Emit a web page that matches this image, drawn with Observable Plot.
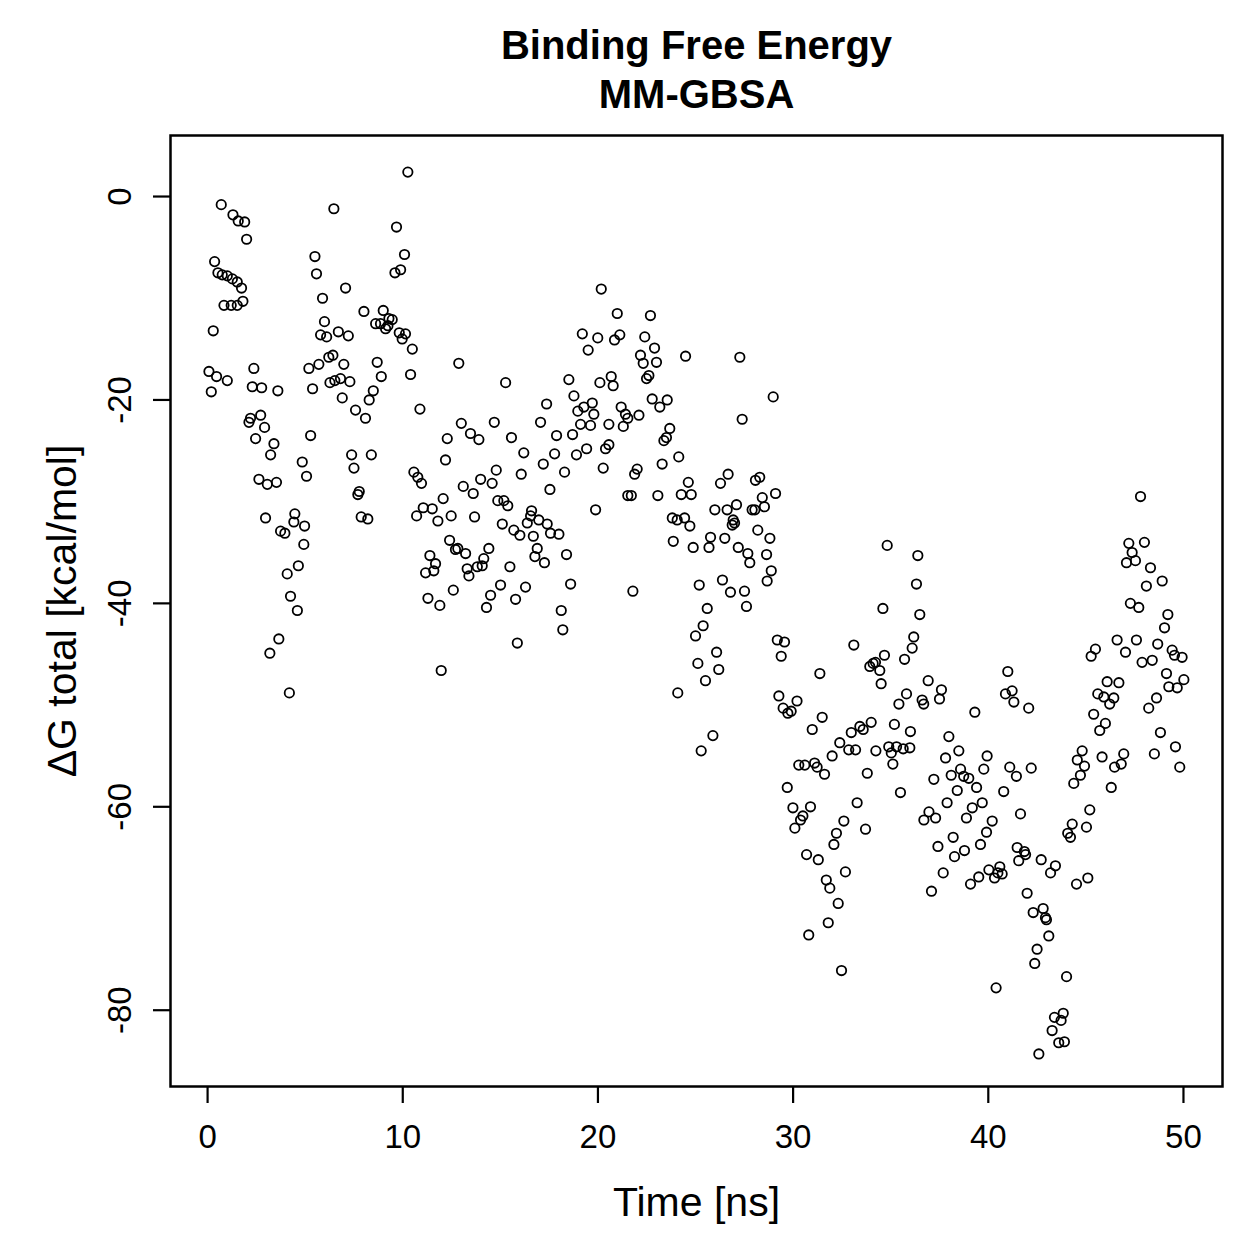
<!DOCTYPE html>
<html>
<head>
<meta charset="utf-8">
<script src="https://cdn.jsdelivr.net/npm/d3@7"></script>
<script src="https://cdn.jsdelivr.net/npm/@observablehq/plot@0.6"></script>
<style>
  html, body { margin: 0; padding: 0; background: #ffffff; }
</style>
</head>
<body>
<div id="chart"></div>
<script>
// MM-GBSA binding free energy samples, [time (ns), ΔG total (kcal/mol)], by time window
const run0to5 = [
  [0.70,-0.8],[1.30,-1.8],[1.57,-2.4],[1.90,-2.5],[2.00,-4.2],[0.36,-6.4],[0.53,-7.5],[0.75,-7.7],
  [1.01,-7.8],[1.27,-8.1],[1.52,-8.4],[1.74,-9.0],[1.81,-10.3],[1.52,-10.7],[1.21,-10.7],[0.84,-10.7],
  [0.29,-13.2],[0.07,-17.2],[0.46,-17.7],[1.01,-18.1],[0.19,-19.2],
  [2.37,-16.9],[2.29,-18.7],[2.77,-18.8],[3.60,-19.1],[2.20,-21.8],[2.12,-22.2],[2.72,-21.5],[2.92,-22.7],
  [2.46,-23.8],[3.40,-24.3],[3.23,-25.4],[2.63,-27.8],[3.06,-28.3],[3.53,-28.1],[2.97,-31.6],[4.47,-31.2],
  [4.42,-32.0],[4.97,-32.4],[3.74,-32.9],[3.96,-33.1],[4.93,-34.2],[4.65,-36.3],[4.08,-37.1],[4.25,-39.3],
  [4.60,-40.7],[3.65,-43.5],[3.19,-44.9],[4.19,-48.8]
];
const run5to11 = [
  [5.50,-5.9],[5.58,-7.6],[5.89,-10.0],[5.99,-12.3],[5.79,-13.6],[6.10,-13.8],[5.19,-16.9],[5.70,-16.5],
  [6.21,-15.8],[6.42,-15.6],[5.38,-18.9],[5.28,-23.5],[4.85,-26.1],[5.07,-27.5],
  [10.26,2.4],[6.47,-1.2],[9.68,-3.0],[10.09,-5.7],[9.60,-7.5],[9.89,-7.2],[7.07,-9.0],[8.01,-11.3],
  [9.00,-11.2],[8.61,-12.5],[8.86,-12.5],[9.29,-12.0],[9.46,-12.1],[9.12,-13.0],[9.24,-12.7],[9.82,-13.4],
  [10.14,-13.5],[9.97,-14.0],[10.49,-15.0],[6.70,-13.3],[7.21,-13.7],[6.98,-16.5],[6.27,-18.3],[6.52,-18.1],
  [6.81,-17.9],[7.29,-18.2],[6.90,-19.8],[8.69,-16.3],[8.90,-17.7],[8.49,-19.1],[8.28,-20.0],[7.58,-21.0],
  [8.09,-21.8],[10.40,-17.5],[10.88,-20.9],[7.38,-25.4],[7.50,-26.7],[8.39,-25.4],[7.77,-29.0],[7.70,-29.3],
  [7.87,-31.5],[8.21,-31.7],[10.57,-27.1],[10.77,-27.6],[10.96,-28.2],[10.71,-31.4],[11.05,-30.6]
];
const run11to18 = [
  [12.87,-16.4],[15.27,-18.3],[17.37,-20.4],[13.00,-22.3],[14.69,-22.2],[17.06,-22.2],[13.47,-23.3],[13.90,-23.9],
  [12.28,-23.8],[15.57,-23.7],[16.20,-25.2],[12.19,-25.9],[17.20,-26.3],[14.79,-26.9],[16.07,-27.3],[13.99,-27.8],
  [14.58,-28.2],[13.10,-28.5],[13.61,-29.2],[12.07,-29.7],[17.54,-28.8],[14.87,-29.9],[15.18,-29.9],[15.38,-30.4],
  [11.51,-30.7],[11.80,-31.9],[12.48,-31.4],[13.68,-31.5],[16.60,-30.9],[16.55,-31.4],[16.38,-32.1],[16.97,-31.8],
  [17.40,-32.2],[17.57,-33.1],[15.10,-32.2],[15.69,-32.8],[16.00,-33.3],[16.69,-33.4],[16.89,-34.6],[16.77,-35.4],
  [17.26,-36.0],[12.40,-33.8],[12.70,-34.7],[12.82,-34.6],[13.22,-35.1],[14.41,-34.6],[14.15,-35.6],[11.39,-35.3],
  [11.68,-36.1],[11.59,-36.8],[11.17,-37.0],[13.30,-36.6],[13.39,-37.3],[13.82,-36.4],[14.07,-36.3],[15.49,-36.4],
  [15.01,-38.2],[14.50,-39.2],[14.29,-40.4],[16.29,-38.4],[15.78,-39.6],[12.59,-38.7],[11.29,-39.5],[11.90,-40.2],
  [15.87,-43.9],[11.97,-46.6]
];
const run18to24 = [
  [20.17,-9.1],[20.99,-11.5],[22.69,-11.7],[19.20,-13.5],[19.99,-13.9],[19.50,-15.1],[20.85,-14.1],[21.12,-13.6],
  [22.40,-13.8],[22.90,-14.9],[22.18,-15.6],[23.00,-16.3],[22.32,-16.4],[22.49,-17.9],[22.61,-17.6],[18.51,-18.0],
  [20.10,-18.3],[20.68,-17.7],[20.78,-18.6],[18.77,-19.6],[19.71,-20.3],[19.28,-20.7],[18.97,-21.1],[19.79,-21.4],
  [19.11,-22.4],[19.62,-22.5],[22.78,-19.9],[23.55,-20.0],[23.17,-20.7],[21.19,-20.7],[21.41,-21.4],[21.53,-21.8],
  [21.30,-22.6],[22.10,-21.5],[20.56,-22.4],[17.88,-23.5],[18.70,-23.4],[23.68,-22.8],[23.51,-23.7],[23.38,-24.0],
  [17.78,-25.3],[18.90,-25.4],[19.42,-24.8],[20.39,-24.8],[20.56,-24.4],[18.29,-27.1],[20.27,-26.7],[21.88,-27.3],
  [22.01,-26.8],[23.29,-26.3],[24.14,-25.6],[21.53,-29.4],[21.71,-29.4],[23.07,-29.4],[19.88,-30.8],[23.81,-31.6],
  [24.06,-31.8],[18.00,-33.2],[18.39,-35.2],[23.86,-33.9],[18.60,-38.1],[21.79,-38.8],[18.12,-40.7],[18.20,-42.6]
];
const run24to30 = [
  [24.49,-15.7],[27.27,-15.8],[28.98,-19.7],[27.39,-21.9],[24.63,-28.1],[24.27,-29.3],[24.78,-29.3],[26.67,-27.3],
  [26.28,-28.2],[28.29,-27.6],[28.07,-27.9],[29.10,-29.2],[28.42,-29.6],[28.53,-30.5],[27.90,-30.8],[28.04,-30.8],
  [25.99,-30.8],[26.62,-30.8],[27.10,-30.3],[26.93,-31.8],[27.00,-32.1],[26.88,-32.3],[24.44,-31.6],[24.71,-32.4],
  [24.88,-34.5],[25.77,-33.5],[25.69,-34.5],[26.50,-33.6],[27.19,-34.5],[27.68,-35.1],[27.78,-36.0],[28.19,-32.8],
  [28.81,-33.6],[28.64,-35.2],[28.88,-36.8],[28.67,-37.8],[25.19,-38.2],[26.38,-37.7],[26.79,-38.9],[27.51,-38.8],
  [27.61,-40.3],[25.60,-40.5],[25.39,-42.2],[25.00,-43.2],[29.19,-43.6],[29.56,-43.8],[29.39,-45.2],[26.08,-44.8],
  [25.12,-45.9],[26.19,-46.5],[25.51,-47.6],[24.09,-48.8],[29.27,-49.1],[29.49,-50.3],[29.73,-50.8],[25.89,-53.0],
  [25.29,-54.5]
];
const run30to34 = [
  [33.11,-44.1],[31.37,-46.9],[29.90,-50.6],[30.20,-49.6],[30.98,-52.4],[31.49,-51.2],[32.39,-53.7],[32.85,-54.4],
  [33.20,-54.4],[32.98,-52.7],[33.42,-52.1],[33.59,-52.4],[34.00,-51.7],[34.24,-54.5],[32.00,-55.0],[30.29,-55.9],
  [30.60,-55.9],[31.10,-55.7],[31.23,-56.1],[31.61,-56.8],[33.80,-56.7],[29.70,-58.1],[29.99,-60.1],[30.89,-60.0],
  [30.50,-60.9],[30.38,-61.3],[30.09,-62.1],[33.28,-59.6],[32.60,-61.4],[32.22,-62.6],[32.09,-63.7],[33.71,-62.2],
  [30.69,-64.7],[31.29,-65.2],[32.68,-66.4],[31.70,-67.2],[31.88,-68.0],[32.31,-69.5],[31.80,-71.4],[30.80,-72.6],
  [32.48,-76.1]
];
const run34to40 = [
  [34.82,-34.3],[36.39,-35.3],[36.32,-38.1],[34.60,-40.5],[36.49,-41.1],[36.18,-43.3],[36.10,-44.4],[35.71,-45.5],
  [34.68,-45.1],[34.22,-45.8],[33.93,-46.2],[34.10,-45.9],[34.44,-46.6],[34.51,-47.9],[36.92,-47.6],[37.60,-48.5],
  [37.50,-49.4],[35.81,-48.9],[35.42,-49.9],[36.61,-49.5],[36.69,-49.9],[39.31,-50.7],[35.19,-51.9],[36.01,-52.6],
  [37.98,-53.1],[38.49,-54.5],[37.81,-55.2],[34.90,-54.1],[35.03,-54.7],[35.30,-54.1],[35.64,-54.3],[35.98,-54.2],
  [35.11,-55.8],[39.94,-55.0],[39.77,-56.3],[38.58,-56.3],[38.10,-56.9],[38.74,-57.0],[39.00,-57.2],[39.40,-58.1],
  [37.21,-57.3],[38.41,-58.4],[35.50,-58.6],[37.89,-59.6],[39.18,-60.1],[39.69,-59.6],[36.96,-60.5],[37.30,-61.1],
  [36.70,-61.3],[38.88,-61.1]
];
const run40to45 = [
  [41.00,-46.7],[40.88,-48.9],[41.22,-48.6],[41.31,-49.7],[42.07,-50.3],[41.10,-56.1],[41.44,-57.0],[42.20,-56.2],
  [40.79,-58.5],[40.20,-61.4],[39.91,-62.5],[39.60,-63.7],[41.65,-60.7],[38.20,-63.0],[37.42,-63.9],[38.27,-64.9],
  [38.78,-64.3],[41.48,-64.0],[41.85,-64.4],[41.91,-64.7],[41.56,-65.3],[42.71,-65.2],[43.44,-65.8],[43.19,-66.5],
  [37.69,-66.5],[39.51,-66.9],[39.09,-67.6],[40.03,-66.2],[40.32,-67.0],[40.59,-65.9],[40.49,-66.5],[40.71,-66.6],
  [37.09,-68.3],[41.99,-68.5],[42.30,-70.4],[42.81,-70.0],[42.93,-70.9],[42.98,-71.1],[43.10,-72.7],[42.50,-74.0],
  [42.38,-75.4],[40.40,-77.8],[44.01,-76.7],[43.84,-80.3],[43.39,-80.7],[43.73,-81.0],[43.27,-82.0],[43.61,-83.2],
  [43.90,-83.1],[42.59,-84.3],
  [45.20,-60.3],[44.30,-61.7],[44.07,-62.6],[44.21,-63.0],[45.03,-62.0],[45.10,-67.0],[44.52,-67.6]
];
const run45to50 = [
  [47.80,-29.5],[47.20,-34.1],[48.00,-34.0],[47.37,-35.0],[47.08,-36.0],[47.54,-35.8],[48.31,-36.5],[48.91,-37.8],
  [48.10,-38.3],[47.28,-40.0],[47.71,-40.4],[49.20,-41.1],[49.03,-42.4],[46.60,-43.6],[47.59,-43.6],[47.03,-44.8],
  [48.68,-44.0],[49.42,-44.6],[49.54,-45.1],[49.93,-45.3],[47.88,-45.8],[48.40,-45.6],[45.49,-44.5],[45.27,-45.2],
  [49.13,-46.9],[50.02,-47.5],[49.25,-48.2],[49.68,-48.3],[46.09,-47.7],[46.69,-47.8],[45.61,-48.9],[45.92,-49.2],
  [46.43,-49.3],[46.22,-49.9],[48.62,-49.3],[48.22,-50.3],[45.40,-50.9],[46.00,-51.8],[45.71,-52.5],[48.82,-52.7],
  [44.81,-54.5],[44.56,-55.4],[44.93,-56.0],[44.72,-56.9],[44.38,-57.7],[45.83,-55.1],[46.94,-54.8],[46.81,-55.8],
  [46.47,-56.1],[48.51,-54.8],[49.59,-54.1],[49.81,-56.1],[46.30,-58.1]
];

const xTicks = [0, 10, 20, 30, 40, 50];
const yTicks = [-80, -60, -40, -20, 0];
const titleLines = ["Binding Free Energy", "MM-GBSA"];
const xLabel = "Time [ns]";
const yLabel = "ΔG total [kcal/mol]";

const samples = [run0to5, run5to11, run11to18, run18to24, run24to30, run30to34, run34to40, run40to45, run45to50]
  .flat()
  .map(([time, dG]) => ({time, dG}))
  .sort((a, b) => a.time - b.time);

const font = "'Liberation Sans', Arial, Helvetica, sans-serif";
const centered = {textAnchor: "middle", lineAnchor: "middle", fill: "#000000"};

const chart = Plot.plot({
  width: 1259,
  height: 1259,
  marginLeft: 170,
  marginRight: 37,
  marginTop: 135,
  marginBottom: 173,
  style: {fontFamily: font, background: "#ffffff", color: "#000000"},
  x: {domain: [-1.9, 52.0]},
  y: {domain: [-87.5, 6.0]},
  marks: [
    Plot.axisX(xTicks, {
      tickSize: 17, tickPadding: 21, fontSize: 33, strokeWidth: 2.2,
      label: null, tickFormat: d => String(d)
    }),
    Plot.axisY(yTicks, {
      tickSize: 17, tickPadding: 23, tickRotate: -90, fontSize: 33, strokeWidth: 2.2,
      label: null, tickFormat: d => String(d)
    }),
    Plot.dot(samples, {
      x: "time", y: "dG", r: 4.7, fill: "none", stroke: "#000000", strokeWidth: 1.8
    }),
    Plot.frame({stroke: "#000000", strokeWidth: 2.5}),
    Plot.text([titleLines[0]], {
      ...centered, text: d => d, frameAnchor: "top", dy: -89, fontSize: 40, fontWeight: "bold"
    }),
    Plot.text([titleLines[1]], {
      ...centered, text: d => d, frameAnchor: "top", dy: -40, fontSize: 40, fontWeight: "bold"
    }),
    Plot.text([xLabel], {
      ...centered, text: d => d, frameAnchor: "bottom", dy: 116, fontSize: 41
    }),
    Plot.text([yLabel], {
      ...centered, text: d => d, frameAnchor: "left", dx: -108, rotate: -90, fontSize: 41
    })
  ]
});

document.getElementById("chart").append(chart);
</script>
</body>
</html>
